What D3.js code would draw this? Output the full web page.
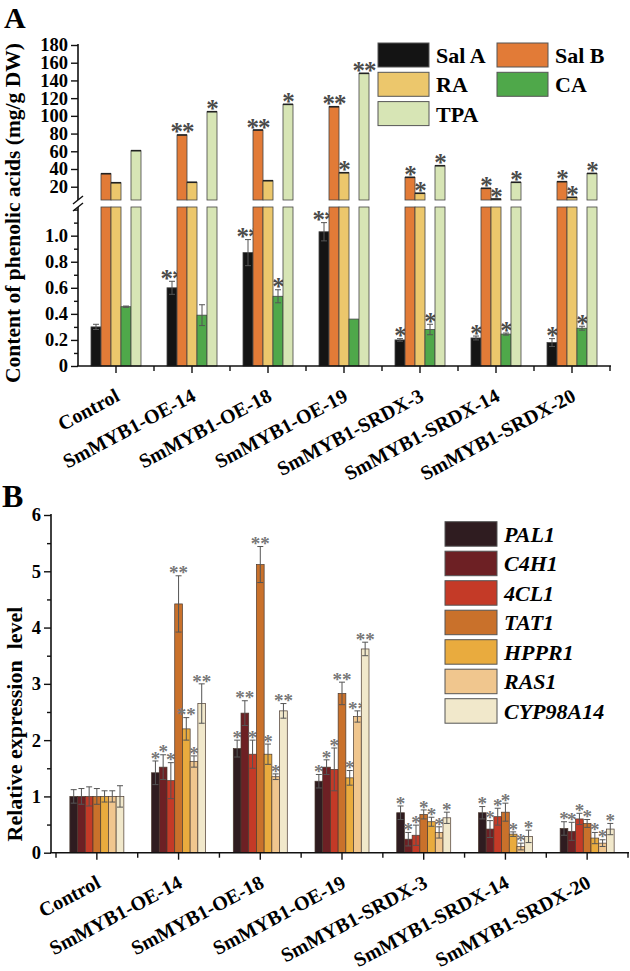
<!DOCTYPE html>
<html><head><meta charset="utf-8">
<script src="https://cdn.jsdelivr.net/npm/d3@7"></script>
<style>
body{margin:0;background:#fff}
svg{display:block}
text{font-family:"Liberation Serif","Times New Roman",serif;font-weight:bold}
</style>
</head><body>
<svg id="c" width="630" height="971"></svg>
<script>
// ---------- DATA ----------
const categories = ["Control","SmMYB1-OE-14","SmMYB1-OE-18","SmMYB1-OE-19","SmMYB1-SRDX-3","SmMYB1-SRDX-14","SmMYB1-SRDX-20"];

// Panel A: phenolic acids
const acidSeries = ["Sal A","Sal B","RA","CA","TPA"];
const acidColors = ["#141414","#e27b37","#ecc76c","#4fa84a","#d7e5b5"];
const salA    = [0.30,0.60,0.87,1.03,0.20,0.215,0.18];
const salAErr = [0.02,0.05,0.10,0.07,0.01,0.015,0.03];
const salB    = [34.7,78.4,84,110.3,30.6,18.2,25.7];
const ra      = [24.5,25,26.8,35.8,12.6,6.1,8];
const ca      = [0.455,0.39,0.535,0.36,0.28,0.245,0.29];
const caErr   = [0.005,0.08,0.05,0,0.04,0.008,0.015];
const tpa     = [60.7,104.7,113,148,43.7,25,35];
const salASig = ["","**","**","**","*","*","*"];
const salBSig = ["","**","**","**","*","*","*"];
const raSig   = ["","","","*","*","*","*"];
const caSig   = ["","","*","","*","*","*"];
const tpaSig  = ["","*","*","**","*","*","*"];
const upperTicks = [20,40,60,80,100,120,140,160,180];
const lowerTicks = [0,0.2,0.4,0.6,0.8,1.0];
const lowerMinor = [0.1,0.3,0.5,0.7,0.9,1.1,1.2];

// Panel B: relative expression
const genes = ["PAL1","C4H1","4CL1","TAT1","HPPR1","RAS1","CYP98A14"];
const geneColors = ["#2f1c20","#6d2024","#c43a27","#c9712b","#e9ab3e","#f0c68e","#f1e8cb"];
const pal1   = [1.0,1.42,1.85,1.27,0.71,0.71,0.43];
const pal1E  = [0.12,0.21,0.15,0.12,0.12,0.11,0.12];
const c4h1   = [1.0,1.52,2.48,1.52,0.24,0.42,0.38];
const c4h1E  = [0.14,0.22,0.22,0.13,0.12,0.15,0.16];
const cl1    = [1.0,1.28,1.75,1.48,0.31,0.64,0.60];
const cl1E   = [0.17,0.32,0.25,0.38,0.18,0.15,0.10];
const tat1   = [1.0,4.42,5.12,2.83,0.68,0.72,0.52];
const tat1E  = [0.14,0.50,0.32,0.20,0.08,0.16,0.07];
const hppr1  = [1.0,2.20,1.75,1.33,0.55,0.33,0.26];
const hppr1E = [0.10,0.20,0.18,0.13,0.08,0.04,0.10];
const ras1   = [1.0,1.62,1.35,2.42,0.36,0.11,0.17];
const ras1E  = [0.10,0.10,0.05,0.10,0.10,0.06,0.06];
const cyp    = [1.0,2.65,2.52,3.62,0.62,0.29,0.42];
const cypE   = [0.19,0.35,0.13,0.12,0.10,0.11,0.10];
const pal1S  = ["","*","*","*","*","*","*"];
const c4h1S  = ["","*","**","*","*","*","*"];
const cl1S   = ["","*","*","*","*","*","*"];
const tat1S  = ["","**","**","**","*","*","*"];
const hppr1S = ["","**","*","*","*","*","*"];
const ras1S  = ["","*","*","**","*","*","*"];
const cypS   = ["","**","**","**","*","*","*"];
const bTicks = [0,1,2,3,4,5,6];
const bMinor = [0.5,1.5,2.5,3.5,4.5,5.5];

// ---------- DRAW ----------
const svg = d3.select("#c");
const AX = "#111";

// ===== Panel A =====
const acidTable = [
  {vals:salA, err:salAErr, sig:salASig, hi:false},
  {vals:salB, err:null, sig:salBSig, hi:true},
  {vals:ra,   err:null, sig:raSig,   hi:true},
  {vals:ca,   err:caErr, sig:caSig,  hi:false},
  {vals:tpa,  err:null, sig:tpaSig,  hi:true}
];
const xA = d3.scaleBand().domain(categories).range([78,610]);
const subA = d3.scaleBand().domain(acidSeries).range([0,50]);
const offA = xA.bandwidth()/2 - 25;
const yUp = d3.scaleLinear().domain([5,180]).range([200,45]);
const yLo = d3.scaleLinear().domain([0,1.22]).range([366,207]);

const gA = svg.append("g");
acidTable.forEach((s,si)=>{
  const name = acidSeries[si];
  categories.forEach((c,ci)=>{
    const v = s.vals[ci];
    const x = xA(c)+offA+subA(name);
    const w = subA.bandwidth();
    let topY;
    if(s.hi){
      gA.append("rect").attr("x",x).attr("y",yLo(1.22)).attr("width",w).attr("height",yLo(0)-yLo(1.22))
        .attr("fill",acidColors[si]).attr("stroke","#444").attr("stroke-width",0.8);
      gA.append("rect").attr("x",x).attr("y",yUp(v)).attr("width",w).attr("height",yUp(5)-yUp(v))
        .attr("fill",acidColors[si]).attr("stroke","#444").attr("stroke-width",0.8);
      gA.append("line").attr("x1",x).attr("x2",x+w).attr("y1",yUp(v)).attr("y2",yUp(v)).attr("stroke","#222").attr("stroke-width",1.6);
      topY = yUp(v);
    } else {
      gA.append("rect").attr("x",x).attr("y",yLo(v)).attr("width",w).attr("height",yLo(0)-yLo(v))
        .attr("fill",acidColors[si]).attr("stroke","#444").attr("stroke-width",0.8);
      const e = s.err[ci];
      topY = yLo(v+e);
      if(e>0){
        const cx = x+w/2;
        gA.append("line").attr("x1",cx).attr("x2",cx).attr("y1",yLo(v-e)).attr("y2",yLo(v+e)).attr("stroke","#555").attr("stroke-width",1);
        [v-e,v+e].forEach(t=>gA.append("line").attr("x1",cx-3).attr("x2",cx+3).attr("y1",yLo(t)).attr("y2",yLo(t)).attr("stroke","#555").attr("stroke-width",1));
      }
    }
    if(s.sig[ci]){
      gA.append("text").attr("x",x+w/2).attr("y",topY-2+25*0.3).attr("text-anchor","middle")
        .attr("font-size",25).attr("fill","#4a4a4a").attr("letter-spacing",-1).text(s.sig[ci]);
    }
  });
});

// A axes
function styleAxis(g){
  g.select(".domain").remove();
  g.selectAll(".tick line").attr("stroke",AX).attr("stroke-width",1.4);
  g.selectAll(".tick text").attr("font-size",18.5).attr("fill","#000")
   .style("font-family",'"Liberation Serif","Times New Roman",serif').style("font-weight","bold");
}
const upAx = svg.append("g").attr("transform","translate(78,0)")
  .call(d3.axisLeft(yUp).tickValues(upperTicks).tickSize(7).tickPadding(3).tickFormat(d3.format("d")));
styleAxis(upAx);
const loAx = svg.append("g").attr("transform","translate(78,0)")
  .call(d3.axisLeft(yLo).tickValues(lowerTicks).tickSize(7).tickPadding(3).tickFormat(d=>d===0?"0":d3.format(".1f")(d)));
styleAxis(loAx);
const loMin = svg.append("g").attr("transform","translate(78,0)")
  .call(d3.axisLeft(yLo).tickValues(lowerMinor).tickSize(4).tickFormat(""));
styleAxis(loMin);
svg.append("line").attr("x1",78).attr("x2",78).attr("y1",yUp(180)-1).attr("y2",yUp(5)).attr("stroke",AX).attr("stroke-width",1.6);
svg.append("line").attr("x1",78).attr("x2",78).attr("y1",yLo(1.22)).attr("y2",yLo(0)).attr("stroke",AX).attr("stroke-width",1.6);
// break marks
svg.append("line").attr("x1",73).attr("y1",204).attr("x2",83).attr("y2",196).attr("stroke",AX).attr("stroke-width",1.4);
svg.append("line").attr("x1",73).attr("y1",211).attr("x2",83).attr("y2",203).attr("stroke",AX).attr("stroke-width",1.4);

const xAx = svg.append("g").attr("transform","translate(0,366)")
  .call(d3.axisBottom(xA).tickSize(7).tickFormat(""));
xAx.select(".domain").remove();
xAx.selectAll(".tick line").attr("stroke",AX).attr("stroke-width",1.4);
svg.append("line").attr("x1",77).attr("x2",611).attr("y1",366).attr("y2",366).attr("stroke",AX).attr("stroke-width",1.6);
const boundsA = categories.map(c=>xA(c)).concat([xA.range()[1]]).slice(1);
svg.selectAll(".minA").data(boundsA).enter().append("line")
  .attr("x1",d=>d).attr("x2",d=>d).attr("y1",366).attr("y2",371).attr("stroke",AX).attr("stroke-width",1.4);
svg.selectAll(".catA").data(categories).enter().append("text")
  .attr("transform",d=>`translate(${xA(d)+xA.bandwidth()/2+5},${366+34}) rotate(-28)`)
  .attr("text-anchor","end").attr("font-size",20).text(d=>d);

// A title / label
svg.append("text").attr("x",4).attr("y",28).attr("font-size",30).text("A");
svg.append("text").attr("transform","translate(20,213) rotate(-90)").attr("text-anchor","middle")
  .attr("font-size",21.5).text("Content of phenolic acids (mg/g DW)");

// A legend
acidSeries.forEach((n,i)=>{
  const lx = 378 + (i%2)*119, ly = 43 + Math.floor(i/2)*29.3;
  svg.append("rect").attr("x",lx).attr("y",ly).attr("width",51).attr("height",24)
    .attr("fill",acidColors[i]).attr("stroke","#555").attr("stroke-width",1);
  svg.append("text").attr("x",lx+58).attr("y",ly+20).attr("font-size",22).text(n);
});

// ===== Panel B =====
const geneTable = [
  {vals:pal1,err:pal1E,sig:pal1S},{vals:c4h1,err:c4h1E,sig:c4h1S},{vals:cl1,err:cl1E,sig:cl1S},
  {vals:tat1,err:tat1E,sig:tat1S},{vals:hppr1,err:hppr1E,sig:hppr1S},{vals:ras1,err:ras1E,sig:ras1S},
  {vals:cyp,err:cypE,sig:cypS}
];
const xB = d3.scaleBand().domain(categories).range([56,628]);
const subB = d3.scaleBand().domain(genes).range([0,54]);
const offB = xB.bandwidth()/2 - 27;
const yB = d3.scaleLinear().domain([0,6]).range([852.7,515]);
const gB = svg.append("g");
geneTable.forEach((s,si)=>{
  categories.forEach((c,ci)=>{
    const v=s.vals[ci], e=s.err[ci];
    const x = xB(c)+offB+subB(genes[si]), w = subB.bandwidth(), cx = x+w/2;
    gB.append("rect").attr("x",x).attr("y",yB(v)).attr("width",w).attr("height",yB(0)-yB(v))
      .attr("fill",geneColors[si]).attr("stroke","#4a3a30").attr("stroke-width",0.7);
    gB.append("line").attr("x1",cx).attr("x2",cx).attr("y1",yB(Math.max(0,v-e))).attr("y2",yB(v+e)).attr("stroke","#555").attr("stroke-width",1);
    [v-e,v+e].forEach(t=>gB.append("line").attr("x1",cx-3).attr("x2",cx+3).attr("y1",yB(t)).attr("y2",yB(t)).attr("stroke","#555").attr("stroke-width",1));
    if(s.sig[ci]){
      gB.append("text").attr("x",cx).attr("y",yB(v+e)-2+19*0.3).attr("text-anchor","middle")
        .attr("font-size",19).attr("font-weight","normal").attr("fill","#777").text(s.sig[ci]);
    }
  });
});
const yBax = svg.append("g").attr("transform","translate(51,0)")
  .call(d3.axisLeft(yB).tickValues(bTicks).tickSize(7).tickPadding(3).tickFormat(d3.format("d")));
styleAxis(yBax);
const yBmin = svg.append("g").attr("transform","translate(51,0)")
  .call(d3.axisLeft(yB).tickValues(bMinor).tickSize(4).tickFormat(""));
styleAxis(yBmin);
svg.append("line").attr("x1",51).attr("x2",51).attr("y1",yB(6)-1).attr("y2",yB(0)).attr("stroke",AX).attr("stroke-width",1.6);
const xBax = svg.append("g").attr("transform","translate(0,852.7)")
  .call(d3.axisBottom(xB).tickSize(7).tickFormat(""));
xBax.select(".domain").remove();
xBax.selectAll(".tick line").attr("stroke",AX).attr("stroke-width",1.4);
svg.append("line").attr("x1",50).attr("x2",629).attr("y1",852.7).attr("y2",852.7).attr("stroke",AX).attr("stroke-width",1.6);
const boundsB = categories.map(c=>xB(c)).concat([xB.range()[1]]);
svg.selectAll(".minB").data(boundsB).enter().append("line")
  .attr("x1",d=>d).attr("x2",d=>d).attr("y1",852.7).attr("y2",857.7).attr("stroke",AX).attr("stroke-width",1.4);
svg.selectAll(".catB").data(categories).enter().append("text")
  .attr("transform",d=>`translate(${xB(d)+xB.bandwidth()/2+5},${852.7+34}) rotate(-28)`)
  .attr("text-anchor","end").attr("font-size",20).text(d=>d);

svg.append("text").attr("x",2).attr("y",507).attr("font-size",32).text("B");
svg.append("text").attr("transform","translate(22,724) rotate(-90)").attr("text-anchor","middle")
  .attr("font-size",22).attr("xml:space","preserve").style("white-space","pre").text("Relative expression  level");

genes.forEach((n,i)=>{
  const ly = 521.7 + i*29.5;
  svg.append("rect").attr("x",445).attr("y",ly).attr("width",52).attr("height",24.5)
    .attr("fill",geneColors[i]).attr("stroke","#555").attr("stroke-width",1);
  svg.append("text").attr("x",504).attr("y",ly+20).attr("font-size",22).attr("font-style","italic").text(n);
});
</script>
</body></html>
